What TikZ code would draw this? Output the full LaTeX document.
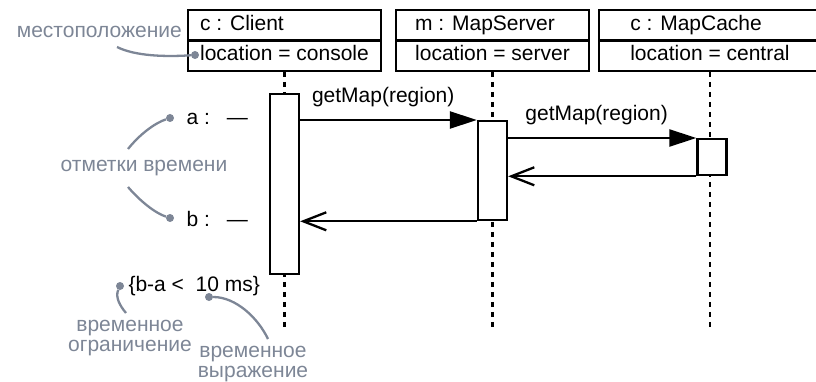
\documentclass[tikz,border=0pt]{standalone}
\usepackage{fontspec}
\setmainfont{Liberation Sans}
\usepackage{calc}
\usetikzlibrary{shapes.multipart, arrows.meta, positioning, calc}

\definecolor{notegray}{RGB}{125,134,150}

\begin{document}
\begin{tikzpicture}[
  x=1pt, y=-1pt,
  font=\fontsize{21}{24}\selectfont,
  obj/.style={draw, line width=2.3pt, rectangle split, rectangle split parts=2, minimum width=193pt, inner ysep=2pt, anchor=north},
  act/.style={draw, line width=2.3pt, fill=white, minimum width=29pt, inner sep=0pt, anchor=north},
  life/.style={line width=2.5pt, dash pattern=on 5pt off 5pt},
  call/.style={line width=2.3pt, -{Triangle[length=27pt,width=17pt]}},
  reply/.style={line width=2.3pt, -{Straight Barb[length=23pt,width=18pt]}},
  msg/.style={anchor=base, yshift=17pt},
  note/.style={text=notegray, align=center, inner sep=1pt, font=\fontsize{21}{20}\selectfont},
  hook/.style={notegray, line width=2.3pt},
  pin/.style={circle, fill=notegray, inner sep=0pt, minimum size=8pt}
]
\clip (0,0) rectangle (816,382);

% Objects
\node[obj] (client) at (284.5,9) {\makebox[\widthof{location = console}][l]{c : Client}\strut\nodepart{two}location = console\strut};
\node[obj] (server) at (492.5,9) {\makebox[\widthof{location = server}][l]{m : MapServer}\strut\nodepart{two}location = server\strut};
\node[obj, minimum width=222pt] (cache) at (710,9) {\makebox[\widthof{location = central}][l]{c : MapCache}\strut\nodepart{two}location = central\strut};

% Lifelines
\draw[life] (client.south) -- (client.south |- 0,328);
\draw[life] (server.south) -- (server.south |- 0,328);
\draw[life] (cache.south) -- (cache.south |- 0,328);

% Activations
\node[act, minimum height=180pt] (clientact) at (client.south |- 0,93) {};
\node[act, minimum height=99pt] (serveract) at (server.south |- 0,120) {};
\node[act, minimum height=36pt] (cacheact) at (712,138) {};

% Messages
\draw[call] (clientact.east |- serveract.north) -- (serveract.north west) node[msg, pos=0.47] {getMap(region)};
\draw[call] (serveract.east |- cacheact.north) -- (cacheact.north west) node[msg, pos=0.47] {getMap(region)};
\draw[reply] (cacheact.south west) -- (serveract.east |- cacheact.south);
\draw[reply] (serveract.south west) -- (clientact.east |- serveract.south);

% Location note
\node[note, anchor=base east] (loclbl) at (183,38) {местоположение};
\node[pin] (locpin) at (195,55) {};
\coordinate (lochook) at (117,47);
\draw[hook] (lochook) .. controls (135,56) and (165,57) .. (locpin);

% Time marks
\node[anchor=west] (marka) at (183,119) {a :\hspace{17pt}—};
\node[anchor=west] (markb) at (183,219) {b :\hspace{17pt}—};
\node[pin] (pina) at (170,118) {};
\node[pin] (pinb) at (170,218) {};
\node[note] (ticks) at (144,168) {отметки времени};
\coordinate (hooka) at (128,149);
\coordinate (hookb) at (128,187);
\draw[hook] (hooka) .. controls (140,134) and (155,123) .. (pina);
\draw[hook] (hookb) .. controls (140,201) and (155,213) .. (pinb);

% Timing constraint
\node[anchor=west] (cons) at (125,286) {\{b-a <\ \ 10 ms\}};
\node[pin] (conspin) at (120,286) {};
\node[pin] (exprpin) at (209,297) {};
\node[note] (conslbl) at (130,338) {временное\\ограничение};
\node[note] (exprlbl) at (253,364) {временное\\выражение};
\coordinate (conshook) at (126,313);
\coordinate (exprhook) at (268,339);
\draw[hook] (conspin) .. controls (115,297) and (120,306) .. (conshook);
\draw[hook] (exprpin) .. controls (236,297) and (258,318) .. (exprhook);

\end{tikzpicture}
\end{document}
